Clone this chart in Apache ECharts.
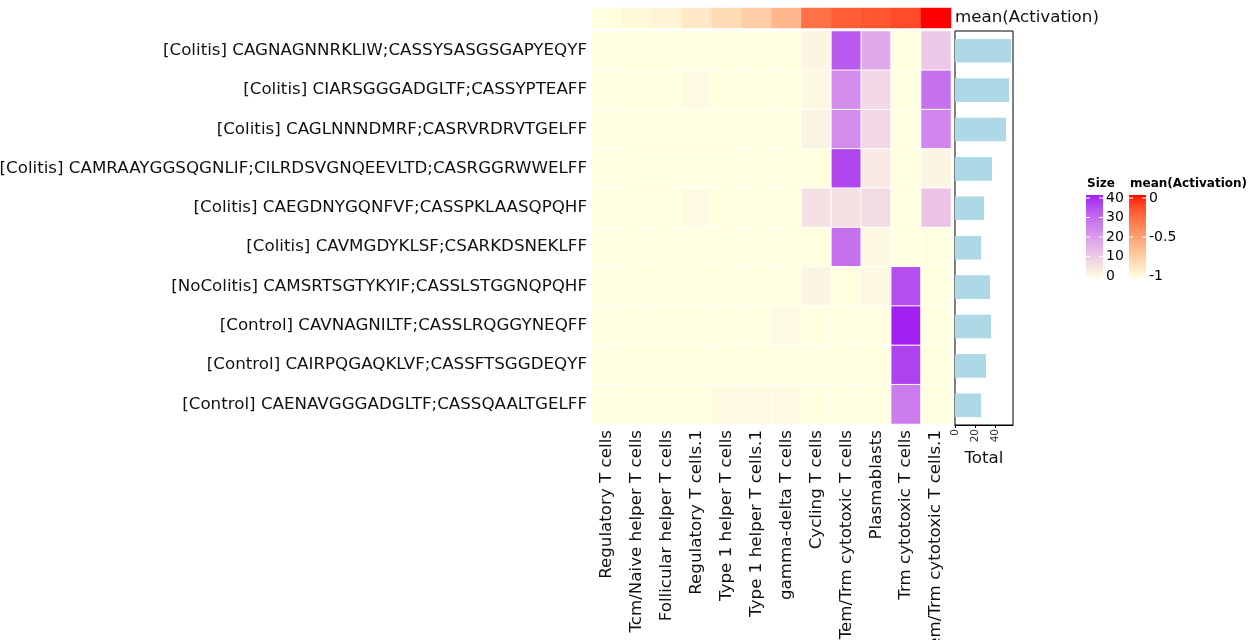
<!DOCTYPE html>
<html><head><meta charset="utf-8">
<script src="https://cdn.jsdelivr.net/npm/echarts/dist/echarts.min.js"></script>
<style>html,body{margin:0;padding:0;background:#fff}#c{width:1250px;height:640px}</style>
</head><body><div id="c"></div>
<script>
// ---- data ----
const rowLabels = [
  "[Colitis] CAGNAGNNRKLIW;CASSYSASGSGAPYEQYF",
  "[Colitis] CIARSGGGADGLTF;CASSYPTEAFF",
  "[Colitis] CAGLNNNDMRF;CASRVRDRVTGELFF",
  "[Colitis] CAMRAAYGGSQGNLIF;CILRDSVGNQEEVLTD;CASRGGRWWELFF",
  "[Colitis] CAEGDNYGQNFVF;CASSPKLAASQPQHF",
  "[Colitis] CAVMGDYKLSF;CSARKDSNEKLFF",
  "[NoColitis] CAMSRTSGTYKYIF;CASSLSTGGNQPQHF",
  "[Control] CAVNAGNILTF;CASSLRQGGYNEQFF",
  "[Control] CAIRPQGAQKLVF;CASSFTSGGDEQYF",
  "[Control] CAENAVGGGADGLTF;CASSQAALTGELFF"
];
const colLabels = [
  "Regulatory T cells", "Tcm/Naive helper T cells", "Follicular helper T cells",
  "Regulatory T cells.1", "Type 1 helper T cells", "Type 1 helper T cells.1",
  "gamma-delta T cells", "Cycling T cells", "Tem/Trm cytotoxic T cells",
  "Plasmablasts", "Trm cytotoxic T cells", "Tem/Trm cytotoxic T cells.1"
];
const activation = [-1, -0.965, -0.94, -0.88, -0.81, -0.74, -0.625, -0.29, -0.21, -0.18, -0.14, 0];
const sizeRow1  = [0, 0, 0, 0, 0, 0, 0, 2, 32, 17, 0, 11];
const sizeRow2  = [0, 0, 0, 1, 0, 0, 0, 1.5, 23, 8, 0, 28];
const sizeRow3  = [0, 0, 0, 0, 0, 0, 0, 2.5, 23, 8, 0, 24];
const sizeRow4  = [0, 0, 0, 0, 0, 0, 0, 0, 35.5, 4, 0, 2];
const sizeRow5  = [0, 0, 0, 1, 0, 0, 0, 6, 6, 7, 0, 12];
const sizeRow6  = [0, 0, 0, 0, 0, 0, 0, 0, 28, 1.5, 0, 0];
const sizeRow7  = [0, 0, 0, 0, 0, 0, 0, 2, 0, 1.5, 34, 0];
const sizeRow8  = [0, 0, 0, 0, 0, 0, 1, 0, 0, 0, 40, 0];
const sizeRow9  = [0, 0, 0, 0, 0, 0, 0, 0, 0, 0, 36, 0];
const sizeRow10 = [0, 0, 0, 0, 1, 1, 1, 0, 0, 0, 26, 0];
const sizeRows = [sizeRow1, sizeRow2, sizeRow3, sizeRow4, sizeRow5, sizeRow6, sizeRow7, sizeRow8, sizeRow9, sizeRow10];
const totals = [56, 54, 51, 37, 29, 26, 35, 36, 31, 26];
const sizeTicks = [0, 10, 20, 30, 40];
const actTicks = [0, -0.5, -1];
const totalTicks = [0, 20, 40];

// ---- colour helpers (Lab interpolation, like R) ----
function srgb2lin(c){c/=255;return c<=0.04045?c/12.92:Math.pow((c+0.055)/1.055,2.4);}
function lin2srgb(c){c=c<=0.0031308?12.92*c:1.055*Math.pow(c,1/2.4)-0.055;return Math.max(0,Math.min(255,Math.round(c*255)));}
function hex2lab(h){
  const r=srgb2lin(parseInt(h.slice(1,3),16)),g=srgb2lin(parseInt(h.slice(3,5),16)),b=srgb2lin(parseInt(h.slice(5,7),16));
  let X=(0.4124*r+0.3576*g+0.1805*b)/0.95047,Y=(0.2126*r+0.7152*g+0.0722*b),Z=(0.0193*r+0.1192*g+0.9505*b)/1.08883;
  const f=t=>t>0.008856?Math.cbrt(t):7.787*t+16/116;
  const fx=f(X),fy=f(Y),fz=f(Z);
  return [116*fy-16,500*(fx-fy),200*(fy-fz)];
}
function lab2hex(l){
  const fy=(l[0]+16)/116,fx=fy+l[1]/500,fz=fy-l[2]/200;
  const fi=t=>t*t*t>0.008856?t*t*t:(t-16/116)/7.787;
  const X=fi(fx)*0.95047,Y=fi(fy),Z=fi(fz)*1.08883;
  const r=3.2406*X-1.5372*Y-0.4986*Z,g=-0.9689*X+1.8758*Y+0.0415*Z,b=0.0557*X-0.2040*Y+1.0570*Z;
  return '#'+[r,g,b].map(v=>lin2srgb(v).toString(16).padStart(2,'0')).join('');
}
function ramp(a,b,n){const A=hex2lab(a),B=hex2lab(b),out=[];for(let i=0;i<n;i++){const t=i/(n-1);out.push(lab2hex([A[0]+(B[0]-A[0])*t,A[1]+(B[1]-A[1])*t,A[2]+(B[2]-A[2])*t]));}return out;}
const sizeColors = ramp('#FFFFE0','#A020F0',21);
const actColors = ramp('#FFFFE0','#FF0000',21);

const heatData = [];
sizeRows.forEach((row,r)=>row.forEach((v,c)=>heatData.push([c,r,v])));
const annData = activation.map((v,i)=>[i,0,v]);

const FONT = 'DejaVu Sans';
const TXT = '#111';
const FS = 16.7;

// legend graphics
function gradStops(cols){return cols.slice().reverse().map((c,i,a)=>({offset:i/(a.length-1),color:c}));}
const legendG = [];
const lgTop = 195, lgH = 83;
legendG.push({type:'text',left:1087,top:178,style:{text:'Size',font:'bold 12px "DejaVu Sans"',fill:'#000'}});
legendG.push({type:'text',left:1130,top:178,style:{text:'mean(Activation)',font:'bold 12px "DejaVu Sans"',fill:'#000'}});
legendG.push({type:'rect',shape:{x:1086,y:lgTop,width:17,height:lgH},style:{fill:new echarts.graphic.LinearGradient(0,0,0,1,gradStops(sizeColors))}});
legendG.push({type:'rect',shape:{x:1129,y:lgTop,width:17,height:lgH},style:{fill:new echarts.graphic.LinearGradient(0,0,0,1,gradStops(actColors))}});
sizeTicks.forEach(v=>{
  const y = 276 - v*(78/40);
  legendG.push({type:'line',shape:{x1:1086,y1:y,x2:1090,y2:y},style:{stroke:'#fff',lineWidth:1}});
  legendG.push({type:'line',shape:{x1:1099,y1:y,x2:1103,y2:y},style:{stroke:'#fff',lineWidth:1}});
  legendG.push({type:'text',x:1106,y:y,style:{text:String(v),font:'14px "DejaVu Sans"',fill:'#000',verticalAlign:'middle'}});
});
actTicks.forEach(v=>{
  const y = 198 + (-v)*78;
  legendG.push({type:'line',shape:{x1:1129,y1:y,x2:1133,y2:y},style:{stroke:'#fff',lineWidth:1}});
  legendG.push({type:'line',shape:{x1:1142,y1:y,x2:1146,y2:y},style:{stroke:'#fff',lineWidth:1}});
  legendG.push({type:'text',x:1149,y:y,style:{text:String(v),font:'14px "DejaVu Sans"',fill:'#000',verticalAlign:'middle'}});
});

const chart = echarts.init(document.getElementById('c'),null,{renderer:'canvas'});
chart.setOption({
  backgroundColor:'#fff',
  animation:false,
  textStyle:{fontFamily:FONT},
  grid:[
    {left:592,top:31,width:359,height:393,outerBoundsMode:'none',containLabel:false},
    {left:592,top:8,width:359,height:20,outerBoundsMode:'none',containLabel:false},
    {left:955,top:31,width:58,height:394,show:true,borderColor:'#000',borderWidth:1,backgroundColor:'#fff',outerBoundsMode:'none',containLabel:false}
  ],
  xAxis:[
    {gridIndex:0,type:'category',data:colLabels,axisLine:{show:false},axisTick:{show:false},
     axisLabel:{rotate:90,fontSize:FS,color:TXT,margin:6,fontFamily:FONT,interval:0},splitLine:{show:false}},
    {gridIndex:1,type:'category',data:colLabels,show:false},
    {gridIndex:2,type:'value',min:0,max:58,interval:20,
     axisLine:{show:true,lineStyle:{color:'#000'}},
     axisTick:{show:true,length:3,customValues:totalTicks,lineStyle:{color:'#000'}},
     axisLabel:{rotate:90,fontSize:10.5,color:'#333',margin:4,customValues:totalTicks,fontFamily:FONT},
     splitLine:{show:false},
     name:'Total',nameLocation:'middle',nameGap:24,nameTextStyle:{fontSize:FS,color:TXT,fontFamily:FONT}}
  ],
  yAxis:[
    {gridIndex:0,type:'category',data:rowLabels,inverse:true,axisLine:{show:false},axisTick:{show:false},
     axisLabel:{fontSize:FS,color:TXT,margin:5,fontFamily:FONT,interval:0}},
    {gridIndex:1,type:'category',data:['mean(Activation)'],position:'right',axisLine:{show:false},axisTick:{show:false},
     axisLabel:{fontSize:FS,color:TXT,margin:4,fontFamily:FONT}},
    {gridIndex:2,type:'category',data:rowLabels,inverse:true,axisLine:{show:false},axisTick:{show:false},axisLabel:{show:false}}
  ],
  visualMap:[
    {type:'continuous',show:false,seriesIndex:0,dimension:2,min:0,max:40,inRange:{color:sizeColors}},
    {type:'continuous',show:false,seriesIndex:1,dimension:2,min:-1,max:0,inRange:{color:actColors}}
  ],
  series:[
    {type:'heatmap',xAxisIndex:0,yAxisIndex:0,data:heatData,itemStyle:{borderColor:'#fff',borderWidth:1},emphasis:{disabled:true}},
    {type:'heatmap',xAxisIndex:1,yAxisIndex:1,data:annData,itemStyle:{borderWidth:0},emphasis:{disabled:true}},
    {type:'bar',xAxisIndex:2,yAxisIndex:2,data:totals,barCategoryGap:'40%',itemStyle:{color:'#ADD8E6'}}
  ],
  graphic:legendG
});
</script></body></html>
